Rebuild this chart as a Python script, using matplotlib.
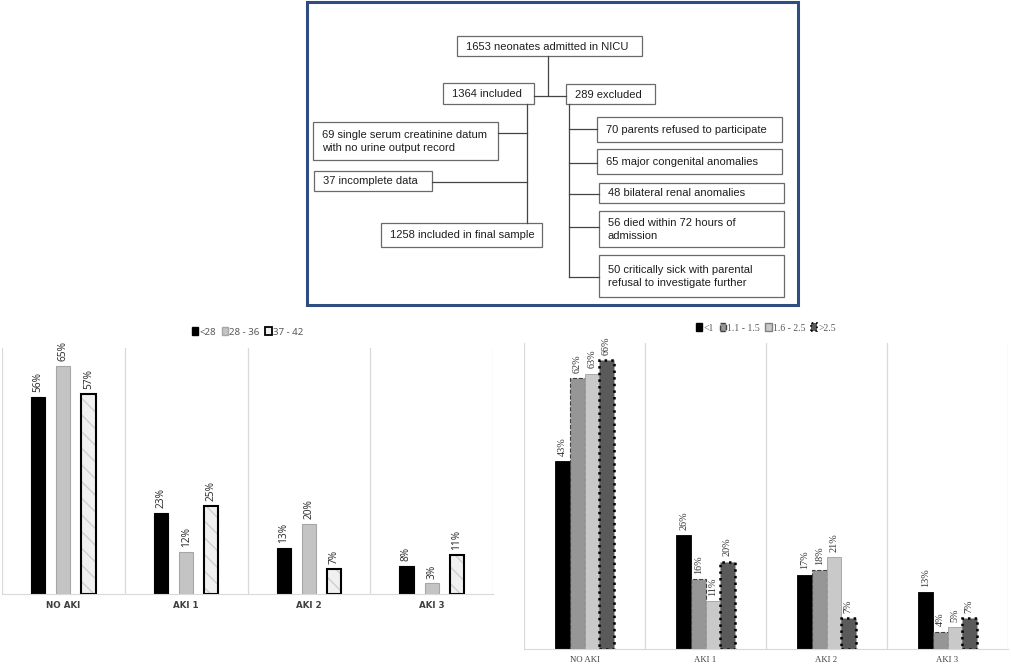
import numpy as np
import matplotlib
matplotlib.use("Agg")
import matplotlib.pyplot as plt
from matplotlib.patches import Rectangle, Patch

# données des deux graphiques
categories = ["NO AKI", "AKI 1", "AKI 2", "AKI 3"]

ga_labels = ["<28", "28 - 36", "37 - 42"]
ga_values = [
    [56, 23, 13, 8],    # <28
    [65, 12, 20, 3],    # 28 - 36
    [57, 25, 7, 11],    # 37 - 42
]

wt_labels = ["<1", "1.1 - 1.5", "1.6 - 2.5", ">2.5"]
wt_values = [
    [43, 26, 17, 13],   # <1
    [62, 16, 18, 4],    # 1.1 - 1.5
    [63, 11, 21, 5],    # 1.6 - 2.5
    [66, 20, 7, 7],     # >2.5
]

# textes du diagramme de flux
flow_texts = [
    "1653 neonates admitted in NICU",
    "1364 included",
    "289 excluded",
    "69 single serum creatinine datum\nwith no urine output record",
    "37 incomplete data",
    "1258 included in final sample",
    "70 parents refused to participate",
    "65 major congenital anomalies",
    "48 bilateral renal anomalies",
    "56 died within 72 hours of\nadmission",
    "50 critically sick with parental\nrefusal to investigate further",
]
# boîtes en pixels (x0, y0, x1, y1)
flow_boxes = [
    (457, 36, 642, 56),
    (443, 83, 534, 104),
    (566, 84, 655, 104),
    (313, 122, 498, 160),
    (314, 171, 432, 191),
    (381, 223, 542, 247),
    (597, 117, 782, 142),
    (597, 149, 782, 174),
    (599, 183, 784, 203),
    (599, 211, 784, 247),
    (599, 255, 784, 297),
]

W, H = 1011, 664
fig = plt.figure(figsize=(W / 100, H / 100), dpi=100)

# ---- diagramme de flux ----
axf = fig.add_axes([0, 0, 1, 1])
axf.set_xlim(0, W)
axf.set_ylim(H, 0)
axf.axis("off")

axf.add_patch(Rectangle((307, 2), 491, 303, fill=False, edgecolor="#2f4d80", lw=2.2))

for (x0, y0, x1, y1), txt in zip(flow_boxes, flow_texts):
    axf.add_patch(Rectangle((x0, y0), x1 - x0, y1 - y0, fill=False,
                            edgecolor="#6a6a6a", lw=0.9))
    axf.text(x0 + 9, (y0 + y1) / 2 + 0.5, txt, ha="left", va="center",
             fontsize=8, family="Liberation Sans", color="#1e1e1e",
             linespacing=1.45)

lc = dict(color="#444444", lw=0.9)
axf.plot([548, 548], [56, 96], **lc)
axf.plot([534, 566], [96, 96], **lc)
# branche gauche
axf.plot([527, 527], [104, 223], **lc)
axf.plot([498, 527], [133, 133], **lc)
axf.plot([432, 527], [182, 182], **lc)
# branche droite
axf.plot([569, 569], [104, 277], **lc)
for yy, xe in [(129, 597), (163, 597), (194, 599), (227, 599), (277, 599)]:
    axf.plot([569, xe], [yy, yy], **lc)


def style_axes(ax, tick_font, tick_bold):
    ax.set_xlim(-0.5, 3.5)
    ax.set_ylim(0, 70)
    ax.set_yticks([])
    ax.set_xticks(np.arange(4))
    ax.set_xticklabels(categories, fontsize=6.3, family=tick_font,
                       fontweight="bold" if tick_bold else "normal",
                       color="#404040")
    ax.tick_params(axis="x", length=0, pad=5)
    ax.set_xticks(np.arange(5) - 0.5, minor=True)
    ax.tick_params(axis="x", which="minor", length=0)
    ax.grid(True, which="minor", axis="x", color="#d9d9d9", lw=0.9)
    for s in ["left", "right", "top"]:
        ax.spines[s].set_visible(False)
    ax.spines["bottom"].set_color("#d9d9d9")
    ax.set_axisbelow(True)


# ---- graphique gauche : âge gestationnel ----
axl = fig.add_axes([2 / W, 1 - 594 / H, 491 / W, 246 / H])
style_axes(axl, "DejaVu Sans", True)
x = np.arange(4)
bw = 0.115
offs = [-0.205, 0, 0.205]
axl.bar(x + offs[0], ga_values[0], bw, color="black", edgecolor="black", lw=0.8)
axl.bar(x + offs[1], ga_values[1], bw, color="#c4c4c4", edgecolor="#a6a6a6", lw=0.8)
axl.bar(x + offs[2], ga_values[2], bw, color="#f0f0f0", edgecolor="#cfcfcf",
        hatch="\\\\", lw=0)
axl.bar(x + offs[2], ga_values[2], bw, fill=False, edgecolor="black", lw=1.5)
for k in range(3):
    for i, v in enumerate(ga_values[k]):
        axl.text(x[i] + offs[k], v + 1.4, f"{v}%", rotation=90, ha="center",
                 va="bottom", fontsize=7.3, family="Noto Sans", color="#333333")
hl = [Patch(facecolor="black", edgecolor="black"),
      Patch(facecolor="#c4c4c4", edgecolor="#a6a6a6"),
      Patch(facecolor="#efefef", edgecolor="black", lw=1.3)]
axl.legend(hl, ga_labels, loc="lower center", bbox_to_anchor=(0.5, 1.01),
           ncol=3, frameon=False, handlelength=0.65, handleheight=0.9,
           handletextpad=0.1, columnspacing=0.6,
           prop=dict(family="Noto Sans", size=7), labelcolor="#595959")

# ---- graphique droit : poids de naissance ----
axr = fig.add_axes([524 / W, 1 - 649 / H, 484 / W, 306 / H])
style_axes(axr, "Liberation Serif", False)
bw2 = 0.12
offs2 = (np.arange(4) - 1.5) * bw2
styles = [
    dict(color="black", edgecolor="black", lw=0.6),
    dict(color="#969696", edgecolor="#404040", lw=0.8, linestyle="--"),
    dict(color="#c9c9c9", edgecolor="#a0a0a0", lw=0.6),
    dict(color="#5a5a5a", edgecolor="black", lw=1.8, linestyle=":"),
]
for k in range(4):
    axr.bar(x + offs2[k], wt_values[k], bw2, **styles[k])
    for i, v in enumerate(wt_values[k]):
        axr.text(x[i] + offs2[k], v + 1.2, f"{v}%", rotation=90, ha="center",
                 va="bottom", fontsize=7.3, family="Liberation Serif", color="#333333")
hr = [Patch(facecolor="black", edgecolor="black"),
      Patch(facecolor="#969696", edgecolor="#404040", linestyle="--"),
      Patch(facecolor="#c9c9c9", edgecolor="#808080"),
      Patch(facecolor="#5a5a5a", edgecolor="black", linestyle=":", lw=1.2)]
axr.legend(hr, wt_labels, loc="lower center", bbox_to_anchor=(0.5, 1.005),
           ncol=4, frameon=False, handlelength=0.65, handleheight=0.9,
           handletextpad=0.1, columnspacing=0.6,
           prop=dict(family="Liberation Serif", size=7), labelcolor="#595959")

fig.savefig("out.png", dpi=100)
